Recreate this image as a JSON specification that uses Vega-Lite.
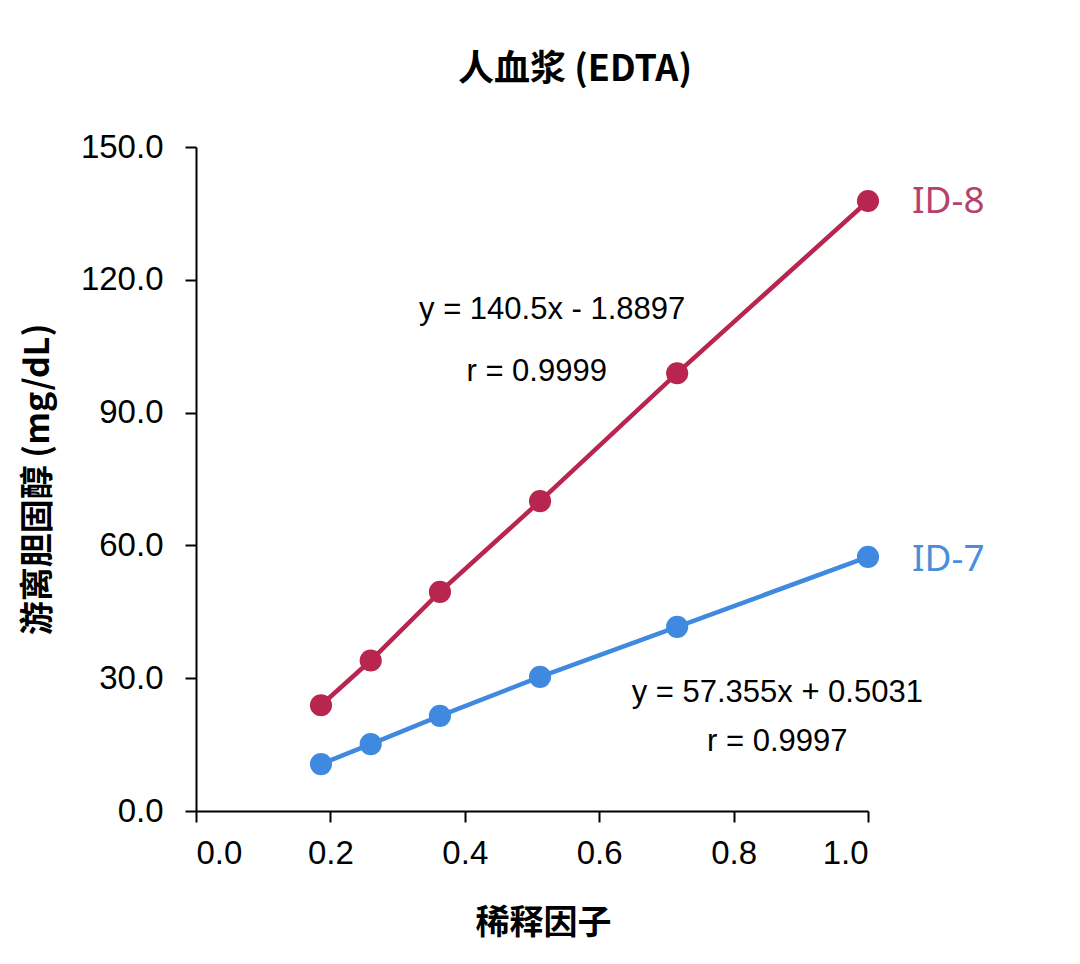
{
  "$schema": "https://vega.github.io/schema/vega-lite/v6.json",
  "autosize": "none",
  "width": 672,
  "height": 664,
  "padding": {"left": 196, "top": 147, "right": 212, "bottom": 153},
  "background": "white",
  "title": {
    "text": "人血浆 (EDTA)",
    "font": "Noto Sans CJK SC",
    "fontSize": 36,
    "fontWeight": "bold",
    "color": "black",
    "anchor": "middle",
    "dx": 43,
    "offset": 42
  },
  "datasets": {
    "points": [
      {"series": "ID-8", "dilution": 0.186, "value": 23.9},
      {"series": "ID-8", "dilution": 0.26, "value": 34.0},
      {"series": "ID-8", "dilution": 0.363, "value": 49.5},
      {"series": "ID-8", "dilution": 0.512, "value": 70.0},
      {"series": "ID-8", "dilution": 0.716, "value": 98.9},
      {"series": "ID-8", "dilution": 1.0, "value": 137.8},
      {"series": "ID-7", "dilution": 0.186, "value": 10.6},
      {"series": "ID-7", "dilution": 0.26, "value": 15.1},
      {"series": "ID-7", "dilution": 0.363, "value": 21.5},
      {"series": "ID-7", "dilution": 0.512, "value": 30.3},
      {"series": "ID-7", "dilution": 0.716, "value": 41.6},
      {"series": "ID-7", "dilution": 1.0, "value": 57.4}
    ],
    "notes": [
      {"dilution": 0.53, "value": 113.2, "label": "y = 140.5x - 1.8897"},
      {"dilution": 0.507, "value": 99.2, "label": "r = 0.9999"},
      {"dilution": 0.865, "value": 26.7, "label": "y = 57.355x + 0.5031"},
      {"dilution": 0.865, "value": 15.6, "label": "r = 0.9997"}
    ],
    "tags": [
      {"series": "ID-8", "dilution": 1.0655, "value": 137.6},
      {"series": "ID-7", "dilution": 1.0655, "value": 56.7}
    ]
  },
  "layer": [
    {
      "data": {"name": "points"},
      "mark": {"type": "line", "strokeWidth": 4.5},
      "encoding": {
        "x": {
          "field": "dilution",
          "type": "quantitative",
          "scale": {"domain": [0, 1], "nice": false},
          "axis": {
            "values": [0, 0.2, 0.4, 0.6, 0.8, 1.0],
            "format": ".1f",
            "title": "稀释因子",
            "titleX": 347,
            "titleY": 112,
            "titleBaseline": "middle",
            "titleAlign": "center",
            "labelPadding": 15
          }
        },
        "y": {
          "field": "value",
          "type": "quantitative",
          "scale": {"domain": [0, 150], "nice": false},
          "axis": {
            "values": [0, 30, 60, 90, 120, 150],
            "format": ".1f",
            "title": "游离胆固醇 (mg/dL)",
            "titleX": -158,
            "titleY": 332,
            "titleAngle": -90,
            "titleBaseline": "middle",
            "titleAlign": "center",
            "labelPadding": 22
          }
        },
        "color": {
          "field": "series",
          "type": "nominal",
          "scale": {"domain": ["ID-8", "ID-7"], "range": ["#b8264f", "#3f8ae0"]},
          "legend": null
        }
      }
    },
    {
      "data": {"name": "points"},
      "mark": {"type": "point", "filled": true, "size": 490, "opacity": 1},
      "encoding": {
        "x": {"field": "dilution", "type": "quantitative"},
        "y": {"field": "value", "type": "quantitative"},
        "color": {
          "field": "series",
          "type": "nominal",
          "scale": {"domain": ["ID-8", "ID-7"], "range": ["#b8264f", "#3f8ae0"]},
          "legend": null
        }
      }
    },
    {
      "data": {"name": "notes"},
      "mark": {
        "type": "text",
        "font": "Liberation Sans",
        "fontSize": 31,
        "color": "black",
        "align": "center",
        "baseline": "middle"
      },
      "encoding": {
        "x": {"field": "dilution", "type": "quantitative"},
        "y": {"field": "value", "type": "quantitative"},
        "text": {"field": "label"}
      }
    },
    {
      "data": {"name": "tags"},
      "mark": {
        "type": "text",
        "font": "Noto Sans",
        "fontSize": 37,
        "align": "left",
        "baseline": "middle"
      },
      "encoding": {
        "x": {"field": "dilution", "type": "quantitative"},
        "y": {"field": "value", "type": "quantitative"},
        "text": {"field": "series"},
        "color": {
          "field": "series",
          "type": "nominal",
          "scale": {"domain": ["ID-8", "ID-7"], "range": ["#b5426c", "#4a8edb"]},
          "legend": null
        }
      }
    }
  ],
  "resolve": {"scale": {"color": "independent"}},
  "config": {
    "view": {"stroke": null},
    "axis": {
      "grid": false,
      "domainColor": "black",
      "domainWidth": 2,
      "tickColor": "black",
      "tickWidth": 2,
      "tickSize": 11,
      "labelFont": "Liberation Sans",
      "labelFontSize": 33,
      "labelColor": "black",
      "titleFont": "Noto Sans CJK SC",
      "titleFontSize": 34,
      "titleFontWeight": "bold",
      "titleColor": "black"
    }
  }
}
